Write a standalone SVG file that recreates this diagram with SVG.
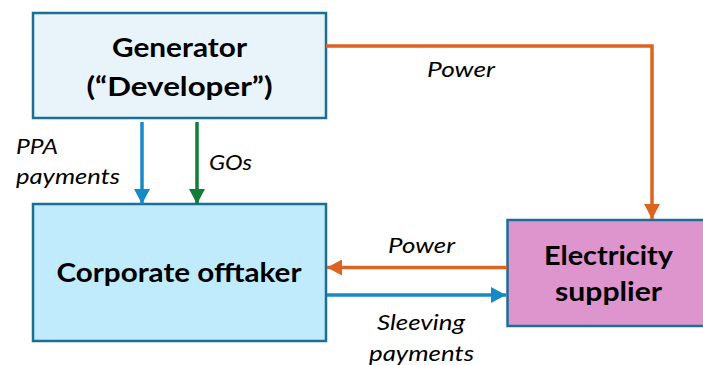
<svg xmlns="http://www.w3.org/2000/svg" width="703" height="365" viewBox="0 0 703 365">
<style>
.box{stroke:#1b6f94;stroke-width:2.5}
.t{font-family:Lato,"Open Sans",sans-serif;font-weight:bold;font-size:26px;fill:#000}
.l{font-family:Lato,"Open Sans",sans-serif;font-style:italic;font-size:21px;fill:#000}
.c{fill:none;stroke-width:3.5}
</style>
<defs>
<marker id="ao" viewBox="0 0 15 16" refX="15" refY="8" markerWidth="15" markerHeight="16" markerUnits="userSpaceOnUse" orient="auto"><path d="M0,0L15,8L0,16Z" fill="#dd6420"/></marker>
<marker id="ab" viewBox="0 0 15 16" refX="15" refY="8" markerWidth="15" markerHeight="16" markerUnits="userSpaceOnUse" orient="auto"><path d="M0,0L15,8L0,16Z" fill="#1689c6"/></marker>
<marker id="ag" viewBox="0 0 15 16" refX="15" refY="8" markerWidth="15" markerHeight="16" markerUnits="userSpaceOnUse" orient="auto"><path d="M0,0L15,8L0,16Z" fill="#0f7d37"/></marker>
</defs>
<g id="generator">
<rect class="box" x="33" y="13" width="293" height="105" fill="#e8f3fa"/>
<text class="t" x="179.5" y="57" text-anchor="middle" textLength="135" lengthAdjust="spacingAndGlyphs">Generator</text>
<text class="t" x="179.5" y="96" text-anchor="middle" textLength="186" lengthAdjust="spacingAndGlyphs">(“Developer”)</text>
</g>
<g id="offtaker">
<rect class="box" x="33" y="204" width="293" height="137" fill="#bfebfc"/>
<text class="t" x="179" y="282" text-anchor="middle" textLength="245" lengthAdjust="spacingAndGlyphs">Corporate offtaker</text>
</g>
<g id="supplier">
<rect class="box" x="507.5" y="220" width="200" height="106" fill="#de94cc"/>
<text class="t" x="608.5" y="265" text-anchor="middle" textLength="129" lengthAdjust="spacingAndGlyphs">Electricity</text>
<text class="t" x="608.5" y="301" text-anchor="middle" textLength="107" lengthAdjust="spacingAndGlyphs">supplier</text>
</g>
<g id="connectors">
<polyline class="c" points="326,46 652,46 652,219" stroke="#dd6420" marker-end="url(#ao)"/>
<line class="c" x1="507" y1="267.5" x2="327" y2="267.5" stroke="#dd6420" marker-end="url(#ao)"/>
<line class="c" x1="327" y1="295" x2="506" y2="295" stroke="#1689c6" marker-end="url(#ab)"/>
<line class="c" x1="142" y1="122" x2="142" y2="204" stroke="#1689c6" marker-end="url(#ab)"/>
<line class="c" x1="197" y1="122" x2="197" y2="204" stroke="#0f7d37" marker-end="url(#ag)"/>
</g>
<g id="labels">
<text class="l" x="427" y="77" textLength="68" lengthAdjust="spacingAndGlyphs">Power</text>
<text class="l" x="388" y="253" textLength="67" lengthAdjust="spacingAndGlyphs">Power</text>
<text class="l" x="377" y="330" textLength="88" lengthAdjust="spacingAndGlyphs">Sleeving</text>
<text class="l" x="369" y="361" textLength="105" lengthAdjust="spacingAndGlyphs">payments</text>
<text class="l" x="16" y="154" textLength="42" lengthAdjust="spacingAndGlyphs">PPA</text>
<text class="l" x="16" y="184" textLength="104" lengthAdjust="spacingAndGlyphs">payments</text>
<text class="l" x="209" y="170" textLength="43" lengthAdjust="spacingAndGlyphs">GOs</text>
</g>
</svg>
